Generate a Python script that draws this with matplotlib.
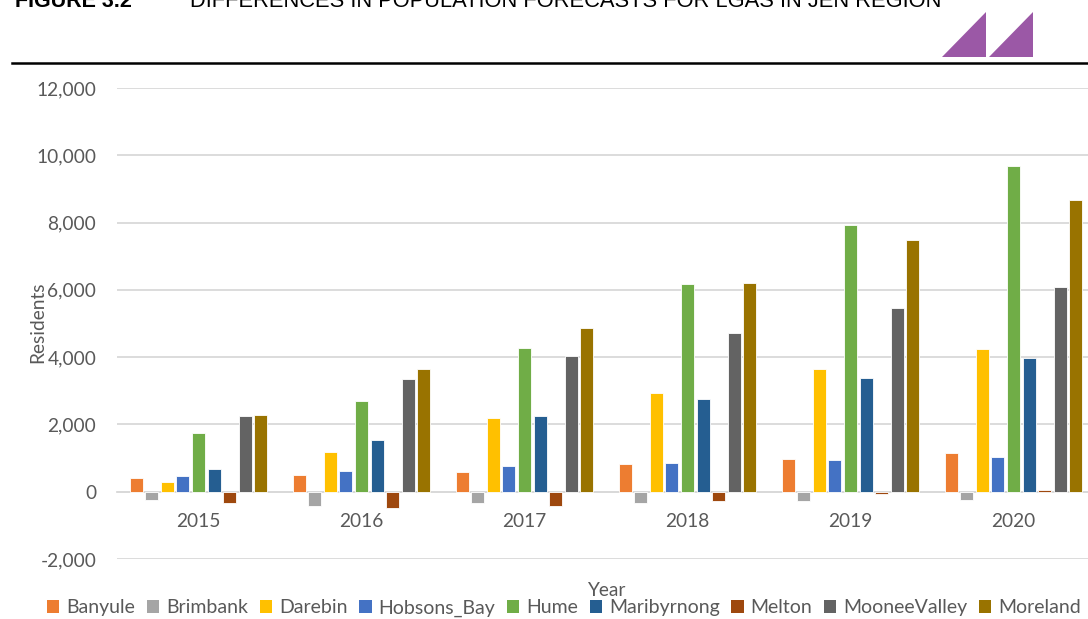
import matplotlib
matplotlib.use("Agg")
import matplotlib.pyplot as plt
from matplotlib.patches import Polygon, Patch
from matplotlib.lines import Line2D
import numpy as np

years = ["2015", "2016", "2017", "2018", "2019", "2020"]
series = ["Banyule", "Brimbank", "Darebin", "Hobsons_Bay", "Hume",
          "Maribyrnong", "Melton", "MooneeValley", "Moreland"]
colors = ["#ED7D31", "#A5A5A5", "#FFC000", "#4472C4", "#70AD47",
          "#255E91", "#9E480E", "#636363", "#997300"]

banyule = [400, 500, 600, 820, 980, 1140]
brimbank = [-240, -420, -350, -330, -280, -240]
darebin = [300, 1180, 2200, 2940, 3640, 4230]
hobsons_bay = [470, 630, 770, 845, 945, 1030]
hume = [1740, 2700, 4260, 6170, 7920, 9680]
maribyrnong = [690, 1540, 2260, 2750, 3375, 3960]
melton = [-350, -470, -420, -290, -70, 60]
mooneevalley = [2260, 3360, 4020, 4705, 5460, 6095]
moreland = [2270, 3660, 4880, 6195, 7475, 8665]
values = [banyule, brimbank, darebin, hobsons_bay, hume,
          maribyrnong, melton, mooneevalley, moreland]

yticks = [-2000, 0, 2000, 4000, 6000, 8000, 10000, 12000]

W, H = 1088, 619
fig = plt.figure(figsize=(W / 100, H / 100), dpi=100)
fontf = ["Lato", "DejaVu Sans"]
titlef = ["Liberation Sans Narrow", "Liberation Sans", "DejaVu Sans"]

ax = fig.add_axes([117 / W, 1 - 559 / H, 978 / W, 471 / H])
x = np.arange(len(years))
step = 15.6 / 163
bw = 0.079
for i, (name, vals, c) in enumerate(zip(series, values, colors)):
    ax.bar(x + (i - 4) * step, vals, width=bw, color=c, edgecolor="white",
           linewidth=0.6, label=name, zorder=3)

ax.set_xlim(-0.5, 5.5)
ax.set_ylim(-2000, 12000)
ax.set_yticks(yticks)
ax.set_yticklabels([f"{v:,}" for v in yticks], fontsize=13.8,
                   color="#595959", family=fontf)
ax.grid(axis="y", color="#D9D9D9", linewidth=1.3, zorder=0)
ax.set_axisbelow(True)
for s in ["top", "right", "left"]:
    ax.spines[s].set_visible(False)
ax.spines["bottom"].set_position(("data", 0))
ax.spines["bottom"].set_color("#D9D9D9")
ax.spines["bottom"].set_linewidth(1.3)
ax.set_xticks(x)
ax.set_xticklabels(years, fontsize=13.8, color="#595959", family=fontf)
ax.tick_params(axis="x", length=0, pad=15)
ax.tick_params(axis="y", length=0, pad=15)

fig.text(38 / W, 1 - 322 / H, "Residents", rotation=90, ha="center",
         va="center", fontsize=13.8, color="#595959", family=fontf)
fig.text(606 / W, 1 - 590 / H, "Year", ha="center", va="center",
         fontsize=13.8, color="#595959", family=fontf)

handles = [Patch(facecolor=c, edgecolor="none") for c in colors]
fig.legend(handles, series, loc="center left", ncol=9,
           bbox_to_anchor=(47 / W, 1 - 608 / H), frameon=False,
           prop={"family": fontf, "size": 14}, labelcolor="#595959",
           handlelength=0.64, handleheight=0.64, handletextpad=0.35,
           columnspacing=0.6, borderaxespad=0, borderpad=0)

# header
t1 = fig.text(15 / W, 1 - 7 / H, "FIGURE 3.2", ha="left", va="baseline",
              fontsize=18, fontweight="bold", color="black", family=titlef)
t2 = fig.text(190 / W, 1 - 7 / H,
              "DIFFERENCES IN POPULATION FORECASTS FOR LGAS IN JEN REGION",
              ha="left", va="baseline", fontsize=18, color="black",
              family=titlef)
fig.canvas.draw()
r = fig.canvas.get_renderer()
for t, target in [(t1, 117), (t2, 751)]:
    w = t.get_window_extent(r).width
    t.set_fontsize(18 * target / w)

fig.add_artist(Line2D([12 / W, 1.0], [1 - 63.3 / H, 1 - 63.3 / H],
                      color="black", linewidth=1.8,
                      transform=fig.transFigure))
purple = "#9B58A6"
for x0, x1 in [(941.7, 986), (988.7, 1033)]:
    fig.add_artist(Polygon([(x0 / W, 1 - 56.7 / H), (x1 / W, 1 - 56.7 / H),
                            (x1 / W, 1 - 12.3 / H)], closed=True,
                           facecolor=purple, edgecolor="none",
                           transform=fig.transFigure))

fig.savefig("out.png", dpi=100)
